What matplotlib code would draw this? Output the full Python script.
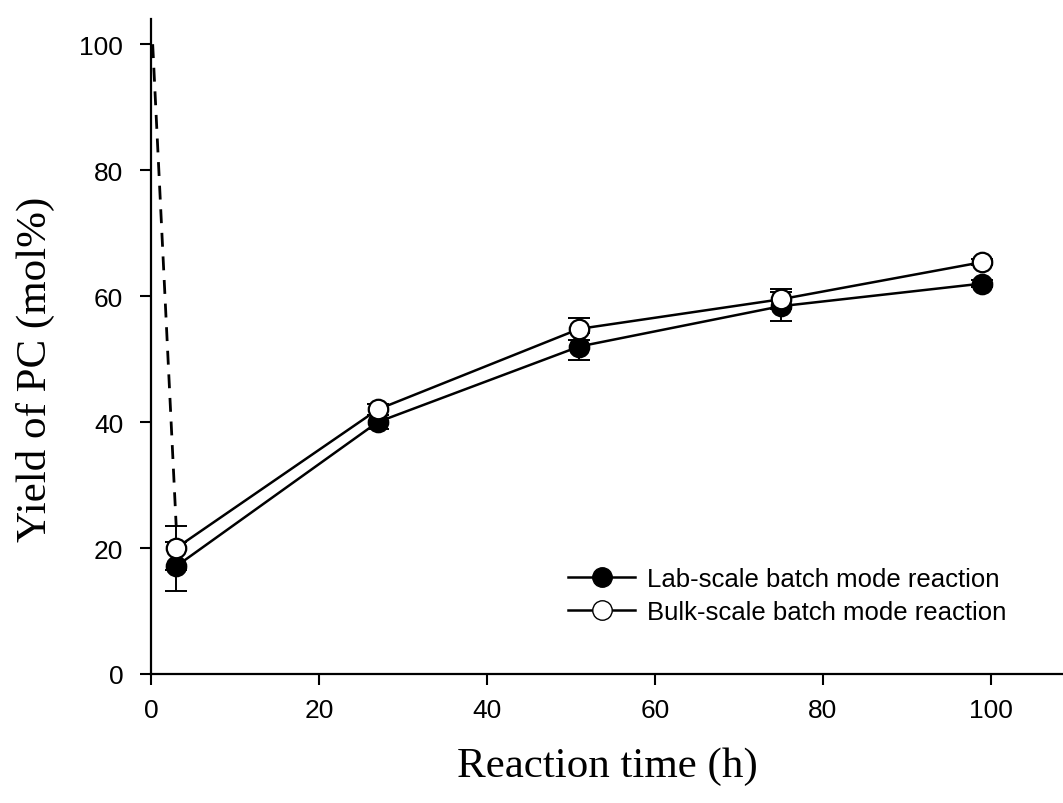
import matplotlib.pyplot as plt
from matplotlib.lines import Line2D

# reaction time (h)
time_h = [3, 27, 51, 75, 99]

# yield of PC (mol%)
lab_yield = [17.1, 40.0, 52.0, 58.4, 62.0]
lab_err = [3.9, 1.1, 2.1, 2.3, 0.5]
bulk_yield = [20.0, 42.0, 54.8, 59.5, 65.4]
bulk_err = [3.5, 0.9, 1.8, 1.6, 0.5]

# dashed trace down the y axis
dash_x = [0.2, 3]
dash_y = [100, 23.5]

tick_font = 'Liberation Sans'
label_font = 'Liberation Serif'

fig = plt.figure(figsize=(10.63, 8.04), dpi=100)
ax = fig.add_axes([151 / 1063, 1 - 675 / 804, 1 - 151 / 1063, 655 / 804])

ax.plot(dash_x, dash_y, color='black', lw=2.0, ls=(0, (5, 3.5)))

# error bars first, then the lines with markers on top
ax.errorbar(time_h, lab_yield, yerr=lab_err, fmt='none', ecolor='black',
            capsize=8, elinewidth=1.4, capthick=1.4, zorder=2)
ax.errorbar(time_h, bulk_yield, yerr=bulk_err, fmt='none', ecolor='black',
            capsize=8, elinewidth=1.4, capthick=1.4, zorder=2)
ax.plot(time_h, lab_yield, color='black', lw=1.8, marker='o', ms=14,
        mfc='black', mec='black', mew=1.6, zorder=3)
ax.plot(time_h, bulk_yield, color='black', lw=1.8, marker='o', ms=14,
        mfc='white', mec='black', mew=1.6, zorder=4)

ax.set_xlim(0, 108.6)
ax.set_ylim(0, 104)
ax.set_xticks([0, 20, 40, 60, 80, 100])
ax.set_yticks([0, 20, 40, 60, 80, 100])
ax.spines['top'].set_visible(False)
ax.spines['right'].set_visible(False)
for s in ['left', 'bottom']:
    ax.spines[s].set_linewidth(1.6)
ax.tick_params(direction='out', length=8, width=1.5)
ax.tick_params(axis='x', pad=9)
ax.tick_params(axis='y', pad=12)
for lbl in ax.get_xticklabels() + ax.get_yticklabels():
    lbl.set_fontfamily(tick_font)
    lbl.set_fontsize(19)

ax.set_xlabel('Reaction time (h)', fontfamily=label_font, fontsize=31, labelpad=18)
ax.set_ylabel('Yield of PC (mol%)', fontfamily=label_font, fontsize=31)
ax.yaxis.set_label_coords(-0.105, 0.467)

handles = [
    Line2D([], [], color='black', lw=1.8, marker='o', ms=14, mfc='black', mec='black'),
    Line2D([], [], color='black', lw=1.8, marker='o', ms=14, mfc='white', mec='black'),
]
labels = ['Lab-scale batch mode reaction', 'Bulk-scale batch mode reaction']
ax.legend(handles, labels, loc='lower right', bbox_to_anchor=(0.963, 0.041),
          frameon=False, prop={'family': tick_font, 'size': 18.5},
          handlelength=2.6, handletextpad=0.45, labelspacing=0.35)

plt.savefig('out.png', dpi=100)
